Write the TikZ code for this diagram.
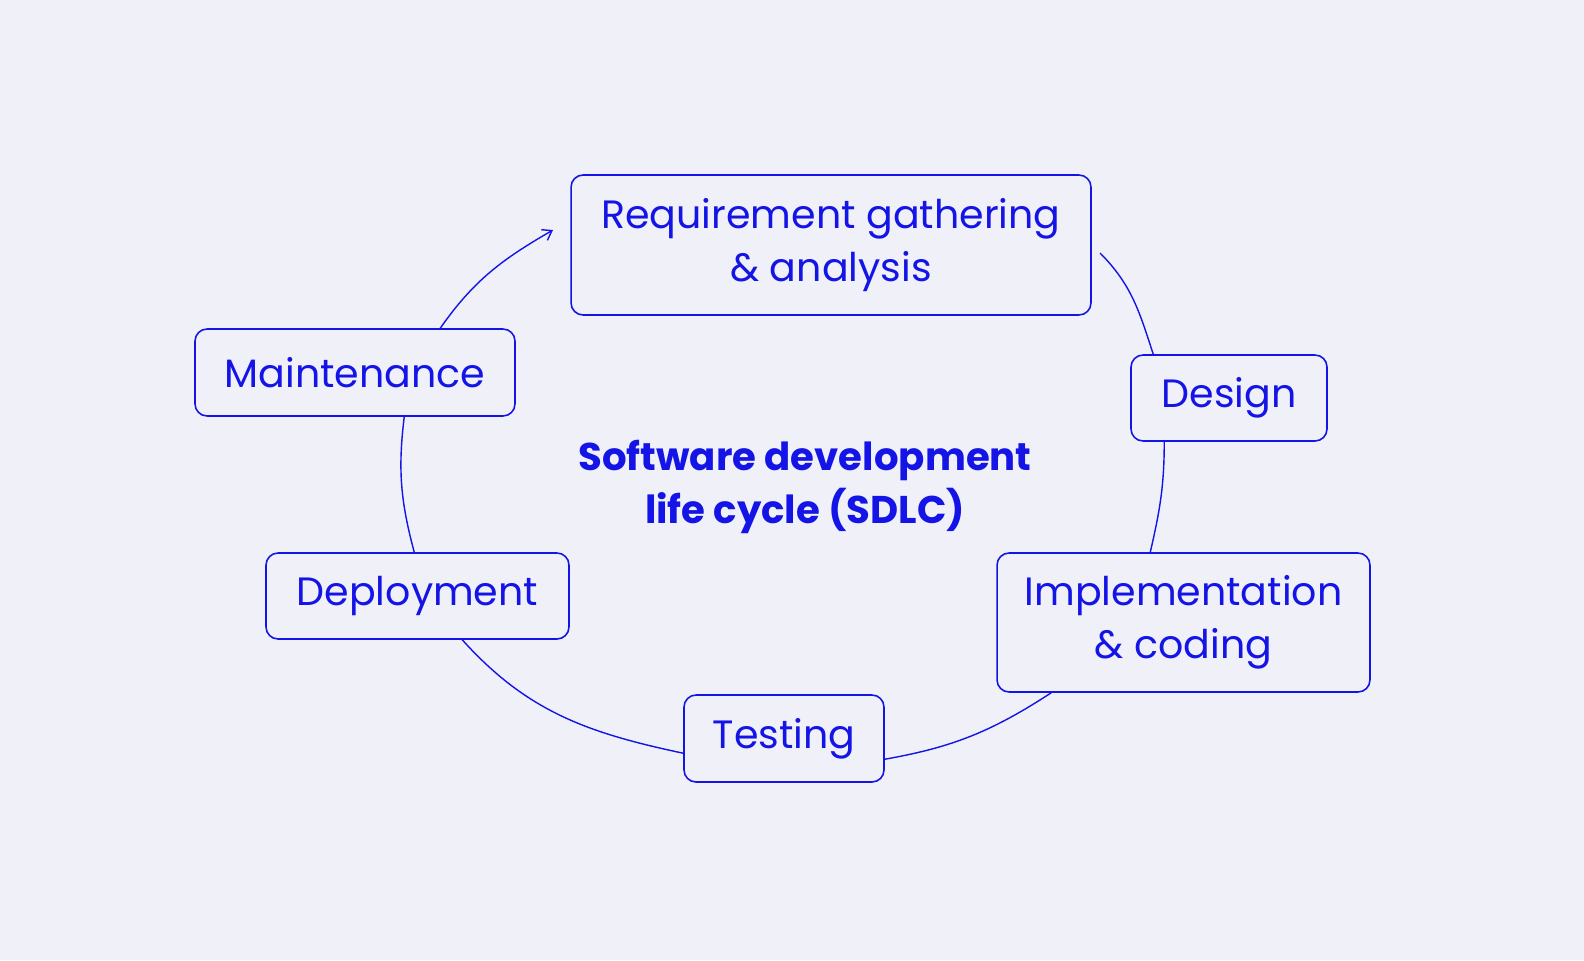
\documentclass[tikz,border=0pt]{standalone}
\usepackage{fontspec}
\setmainfont{Poppins}
\usetikzlibrary{arrows.meta,calc}
\definecolor{bg}{HTML}{EFF0F8}
\definecolor{ink}{HTML}{1414E6}
\begin{document}
\begin{tikzpicture}[x=0.02cm,y=-0.02cm,
  box/.style={draw=ink,line width=0.9pt,rounded corners=0.24cm,text=ink,align=center,font=\fontsize{22.5}{30}\selectfont,inner sep=0pt},
  link/.style={draw=ink,line width=0.8pt}]
\useasboundingbox (0,0) rectangle (1584,960);
\fill[bg] (0,0) rectangle (1584,960);
\node[box,minimum width=10.4cm,minimum height=2.8cm] (req) at (831,245) {Requirement gathering\\\& analysis};
\node[box,minimum width=3.92cm,minimum height=1.72cm] (des) at (1229,398) {Design};
\node[box,minimum width=7.46cm,minimum height=2.78cm] (imp) at (1183.5,622.5) {Implementation\\\& coding};
\node[box,minimum width=4cm,minimum height=1.74cm] (tst) at (784,738.5) {Testing};
\node[box,minimum width=6.06cm,minimum height=1.72cm] (dep) at (417.5,596) {Deployment};
\node[box,minimum width=6.4cm,minimum height=1.74cm] (mnt) at (355,372.5) {Maintenance};
\node[text=ink,align=center,font=\fontsize{22}{30}\selectfont\bfseries] (ttl) at (805,487) {Software development\\life cycle (SDLC)};
\coordinate (a0) at (1100,253);
\coordinate (a1) at ($(des.north west)+(23,0)$);
\coordinate (b0) at ($(des.south west)+(34,0)$);
\coordinate (b1) at ($(imp.north west)+(154,0)$);
\coordinate (c0) at ($(imp.south west)+(55,0)$);
\coordinate (c1) at ($(tst.north east)+(0,65)$);
\coordinate (d0) at ($(tst.north west)+(0,59)$);
\coordinate (d1) at ($(dep.south west)+(197,0)$);
\coordinate (e0) at ($(dep.north west)+(149,0)$);
\coordinate (e1) at ($(mnt.south west)+(210,0)$);
\coordinate (f0) at ($(mnt.north west)+(246,0)$);
\coordinate (f1) at (553,230);
\draw[link] (a0) to[out=-45,in=108] (a1);
\draw[link] (b0) to[out=-90,in=77] (b1);
\draw[link] (c0) to[out=-147,in=10] (c1);
\draw[link] (d0) to[out=168,in=-48] (d1);
\draw[link] (e0) to[out=105,in=-97] (e1);
\draw[link,-{Straight Barb[length=5pt,width=7pt]}] (f0) to[out=55,in=-150] (f1);
\end{tikzpicture}
\end{document}
